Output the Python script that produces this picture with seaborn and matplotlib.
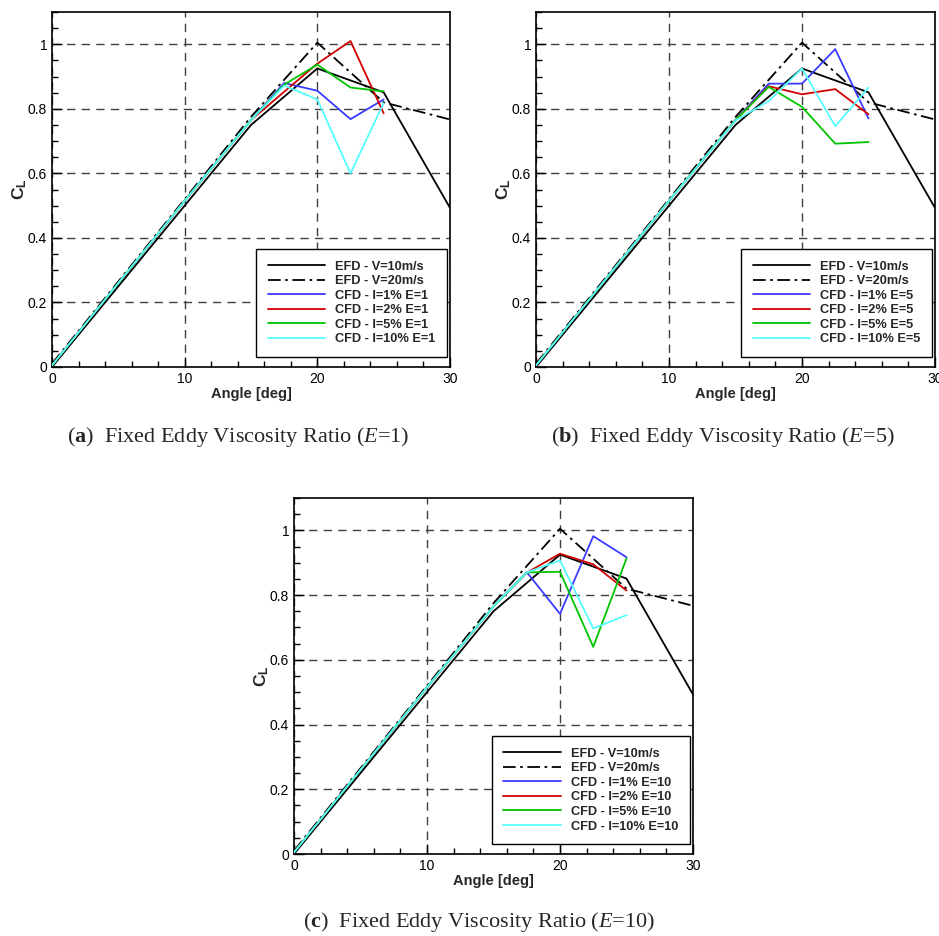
import matplotlib
matplotlib.use("Agg")
import matplotlib.pyplot as plt
import seaborn as sns
import numpy as np
from matplotlib.ticker import MultipleLocator, FuncFormatter

sns.set_style("ticks")
plt.rcParams['font.family'] = ['Liberation Sans', 'DejaVu Sans']
plt.rcParams['mathtext.fontset'] = 'custom'
plt.rcParams['mathtext.rm'] = 'Liberation Serif'
plt.rcParams['mathtext.it'] = 'Liberation Serif:italic'
plt.rcParams['mathtext.bf'] = 'Liberation Serif:bold'
plt.rcParams['mathtext.sf'] = 'Liberation Sans:bold'

# ---------------- data ----------------
efd_angle = [0, 15, 20, 25, 30]
efd_v10 = [0.0, 0.75, 0.925, 0.851, 0.493]
efd_v20_angle = [0, 15, 20, 25, 30]
efd_v20 = [0.01, 0.775, 1.005, 0.82, 0.767]

cfd_angle = [0, 5, 10, 15, 17.5, 20, 22.5, 25]

# E = 1
e1_i1 = [0.005, 0.26, 0.515, 0.765, 0.880, 0.856, 0.768, 0.829]
e1_i2 = [0.005, 0.26, 0.515, 0.765, 0.853, 0.940, 1.010, 0.786]
e1_i5 = [0.005, 0.26, 0.515, 0.765, 0.875, 0.937, 0.866, 0.854]
e1_i10 = [0.005, 0.26, 0.515, 0.765, 0.872, 0.829, 0.600, 0.818]
# E = 5
e5_i1 = [0.005, 0.26, 0.515, 0.765, 0.878, 0.878, 0.985, 0.770]
e5_i2 = [0.005, 0.26, 0.515, 0.765, 0.870, 0.845, 0.861, 0.783]
e5_i5 = [0.005, 0.26, 0.515, 0.765, 0.868, 0.806, 0.692, 0.697]
e5_i10 = [0.005, 0.26, 0.515, 0.764, 0.824, 0.925, 0.746, 0.866]
# E = 10
e10_i1 = [0.005, 0.26, 0.515, 0.765, 0.871, 0.742, 0.982, 0.917]
e10_i2 = [0.005, 0.26, 0.515, 0.765, 0.869, 0.928, 0.895, 0.814]
e10_i5 = [0.005, 0.26, 0.515, 0.765, 0.870, 0.872, 0.640, 0.913]
e10_i10 = [0.005, 0.26, 0.515, 0.765, 0.870, 0.907, 0.697, 0.738]

intensities = ["1%", "2%", "5%", "10%"]
cfd_colors = ["#3a3aff", "#d20000", "#00c400", "#55ffff"]

panels = [
    ("a", "1", [e1_i1, e1_i2, e1_i5, e1_i10]),
    ("b", "5", [e5_i1, e5_i2, e5_i5, e5_i10]),
    ("c", "10", [e10_i1, e10_i2, e10_i5, e10_i10]),
]

W, H = 939, 936
fig = plt.figure(figsize=(W / 100, H / 100), dpi=100)

def frac(l, t, r, b):
    return [l / W, 1 - b / H, (r - l) / W, (b - t) / H]

rects = [frac(52, 12, 450, 367), frac(536, 12, 935, 367), frac(294, 498, 693, 854)]
caption_pos = [(238, 437), (723, 437), (479, 922)]

def yfmt(v, pos):
    s = f"{v:.1f}"
    if s.endswith(".0"):
        s = s[:-2]
    return s

for (letter, E, series), rect, cpos in zip(panels, rects, caption_pos):
    ax = fig.add_axes(rect)
    sns.lineplot(x=efd_angle, y=efd_v10, ax=ax, color="black", lw=1.3,
                 label="EFD - V=10m/s", sort=False, zorder=3)
    sns.lineplot(x=efd_v20_angle, y=efd_v20, ax=ax, color="black", lw=1.3,
                 label="EFD - V=20m/s", sort=False, zorder=3,
                 dashes=False, linestyle=(0, (7, 2.5, 1.5, 2.5)))
    for inten, col, vals in zip(intensities, cfd_colors, series):
        sns.lineplot(x=cfd_angle, y=vals, ax=ax, color=col, lw=1.3,
                     label=f"CFD - I={inten} E={E}", sort=False, zorder=4)
    ax.set_xlim(0, 30)
    ax.set_ylim(0, 1.1)
    ax.xaxis.set_major_locator(MultipleLocator(10))
    ax.xaxis.set_minor_locator(MultipleLocator(2))
    ax.yaxis.set_major_locator(MultipleLocator(0.2))
    ax.yaxis.set_minor_locator(MultipleLocator(0.05))
    ax.yaxis.set_major_formatter(FuncFormatter(yfmt))
    ax.tick_params(which="both", direction="in", top=False, right=False,
                   labelsize=10, colors="black")
    ax.tick_params(which="major", length=7, width=1)
    ax.tick_params(which="minor", length=4, width=1)
    ax.grid(True, which="major", color="#404040", lw=1.0, linestyle=(0, (6, 4.5)))
    for sp in ax.spines.values():
        sp.set_visible(True)
        sp.set_color("black")
        sp.set_linewidth(1.2)
    ax.set_xlabel("Angle [deg]", fontsize=10.5, fontweight="bold", labelpad=1)
    ax.set_ylabel(r"$\mathsf{C_L}$", fontsize=12.5, labelpad=-1)
    axw = rect[2] * W
    axh = rect[3] * H
    leg = ax.legend(loc="lower right",
                    bbox_to_anchor=(1 - 3 / axw, 10 / axh),
                    borderaxespad=0, frameon=True, fancybox=False,
                    handlelength=4.5, handletextpad=0.8, labelspacing=0.2,
                    borderpad=0.9,
                    prop={"weight": "bold", "size": 9.2})
    leg.get_frame().set_edgecolor("black")
    leg.get_frame().set_linewidth(1.0)
    leg.get_frame().set_alpha(1)
    fig.text(cpos[0] / W, 1 - cpos[1] / H,
             rf"($\mathbf{{{letter}}}$)  Fixed Eddy Viscosity Ratio ($\mathit{{E}}$={E})",
             ha="center", va="center", fontsize=16, family="Liberation Serif")

fig.savefig("out.png", dpi=100)
